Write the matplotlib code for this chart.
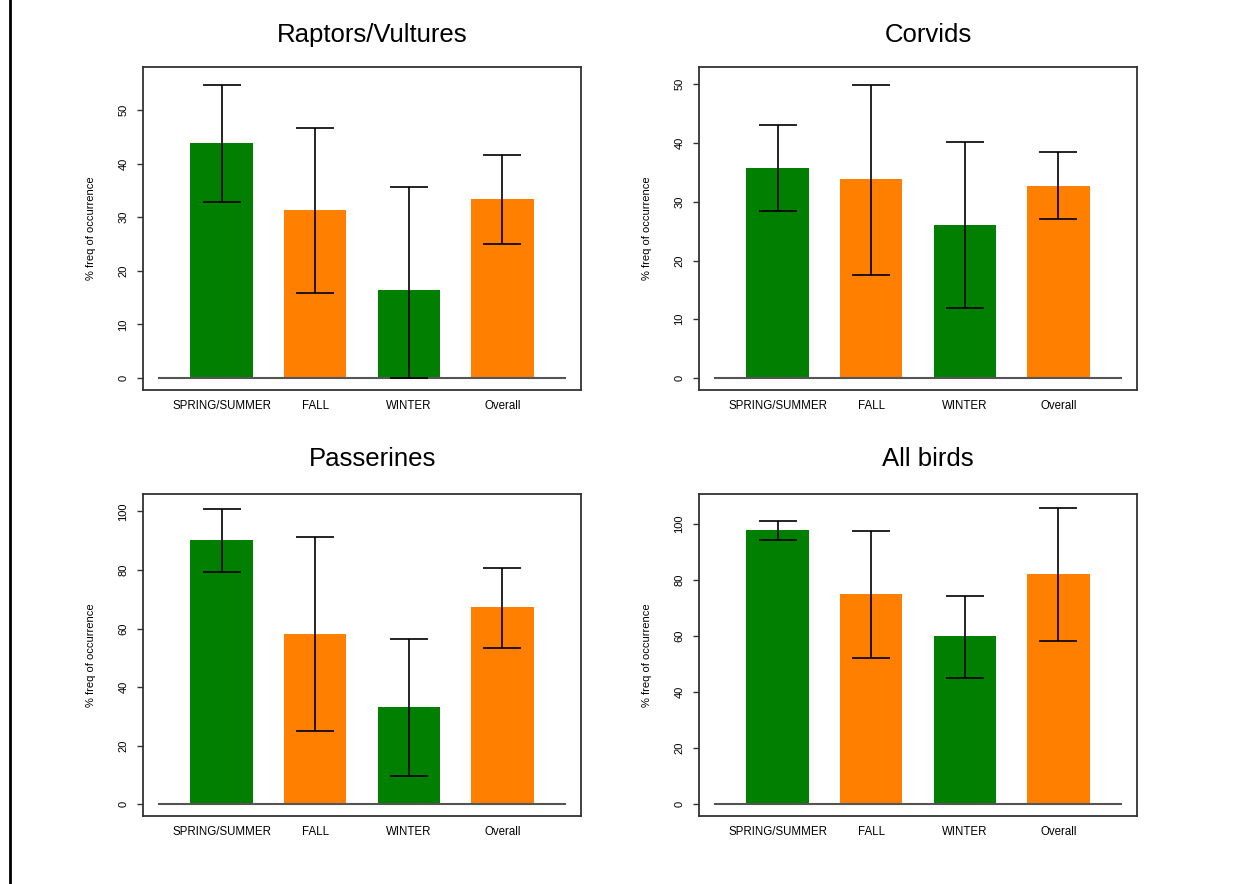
import numpy as np
import matplotlib
matplotlib.use("Agg")
import matplotlib.pyplot as plt
from matplotlib.lines import Line2D

plt.rcParams["font.family"] = ["Liberation Sans", "DejaVu Sans"]

seasons = ["SPRING/SUMMER", "FALL", "WINTER", "Overall"]
groups = ["Raptors/Vultures", "Corvids", "Passerines", "All birds"]

# % frequency of occurrence with lower/upper interval limits
raptors_mean = [43.8, 31.3, 16.4, 33.4]
raptors_lo = [32.8, 15.9, 0.0, 25.0]
raptors_hi = [54.7, 46.6, 35.6, 41.7]

corvids_mean = [35.8, 33.8, 26.1, 32.7]
corvids_lo = [28.4, 17.5, 11.9, 27.0]
corvids_hi = [43.0, 49.9, 40.2, 38.4]

passerines_mean = [90.2, 58.2, 33.2, 67.2]
passerines_lo = [79.2, 25.0, 9.7, 53.4]
passerines_hi = [101.0, 91.2, 56.5, 80.7]

allbirds_mean = [98.0, 75.1, 59.9, 82.1]
allbirds_lo = [94.5, 52.0, 45.0, 58.4]
allbirds_hi = [101.0, 97.6, 74.2, 105.6]

means = [raptors_mean, corvids_mean, passerines_mean, allbirds_mean]
lows = [raptors_lo, corvids_lo, passerines_lo, allbirds_lo]
highs = [raptors_hi, corvids_hi, passerines_hi, allbirds_hi]
ytop = [55.8, 50.9, 101.9, 106.5]
ystep = [10, 10, 20, 20]

bar_cols = ["#007f00", "#ff7f00", "#007f00", "#ff7f00"]
xpos = np.array([1.0, 2.5, 4.0, 5.5])

W, H = 1234, 884
fig = plt.figure(figsize=(W / 100, H / 100), dpi=100)

# axes boxes in pixels: left, top, right, bottom
boxes = [(143, 67, 581, 390), (699, 67, 1137, 390),
         (143, 494, 581, 816), (699, 494, 1137, 816)]
title_pad = [18, 18, 20, 20]

for i in range(4):
    l, t, r, b = boxes[i]
    ax = fig.add_axes([l / W, 1 - b / H, (r - l) / W, (b - t) / H])
    m = np.array(means[i])
    lo = np.array(lows[i])
    hi = np.array(highs[i])
    ax.bar(xpos, m, width=1.0, color=bar_cols, zorder=1)
    ax.plot([0, 6.5], [0, 0], color="#555555", lw=1.5, zorder=2)
    ax.errorbar(xpos, m, yerr=[m - lo, hi - m], fmt="none", ecolor="black",
                elinewidth=1.2, capsize=14, capthick=1.2, zorder=3)

    pad = 0.04 * ytop[i]
    ax.set_ylim(-pad, ytop[i] + pad)
    ax.set_xlim(-0.26, 6.76)
    ax.set_yticks(np.arange(0, ytop[i] + 0.1, ystep[i]))
    ax.set_xticks(xpos)
    ax.set_xticklabels(seasons, fontsize=8.3)
    ax.tick_params(axis="x", length=0, pad=7)
    ax.tick_params(axis="y", length=4.5, width=1, direction="out",
                   labelsize=8, labelrotation=90, pad=6, color="#333333")
    for lab in ax.get_yticklabels():
        lab.set_verticalalignment("center")
    for sp in ax.spines.values():
        sp.set_color("#333333")
        sp.set_linewidth(1.3)
    ax.set_ylabel("% freq of occurrence", fontsize=8)
    ax.yaxis.set_label_coords(-0.108, 0.5)
    ax.set_title(groups[i], fontsize=18.5, pad=title_pad[i], x=0.523)

# thin rule down the left edge of the page
fig.add_artist(Line2D([10 / W, 10 / W], [0, 1], color="black", lw=2,
                      transform=fig.transFigure))

fig.savefig("out.png", dpi=100, facecolor="white")
